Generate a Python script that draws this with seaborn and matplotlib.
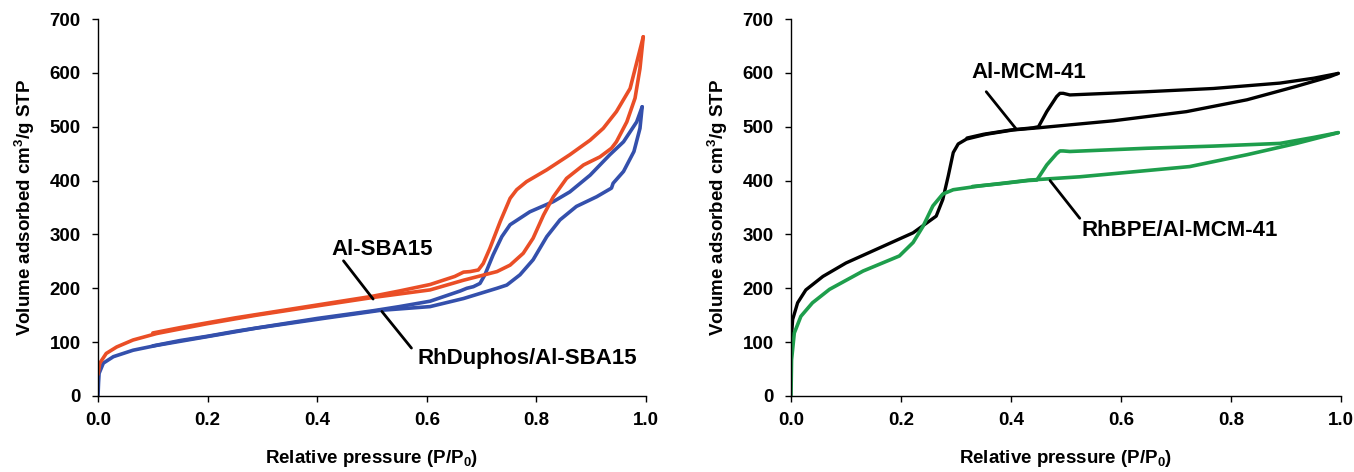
import matplotlib
matplotlib.use("Agg")
import matplotlib.pyplot as plt
import pandas as pd
import seaborn as sns

# ---------------- data ----------------
# Left panel: Al-SBA15
sba_ads_x = [0.0, 0.0033, 0.015, 0.034, 0.064, 0.107, 0.198, 0.289, 0.411, 0.502, 0.606, 0.667,
             0.728, 0.752, 0.776, 0.794, 0.813, 0.831, 0.855, 0.886, 0.916, 0.937, 0.946, 0.965,
             0.980, 0.989, 0.995]
sba_ads_y = [40, 61, 79, 91, 104, 116, 134, 150, 169, 183, 197, 215,
             231, 243, 265, 293, 336, 370, 404, 429, 444, 460, 472, 509,
             553, 608, 667]
sba_des_x = [0.995, 0.971, 0.946, 0.922, 0.898, 0.861, 0.819, 0.782, 0.764, 0.752, 0.734, 0.715,
             0.703, 0.694, 0.679, 0.667, 0.651, 0.606, 0.55, 0.5, 0.45, 0.40, 0.35, 0.30,
             0.25, 0.20, 0.15, 0.10]
sba_des_y = [667, 571, 528, 497, 475, 448, 420, 398, 383, 367, 324, 274,
             246, 234, 231, 230, 222, 207, 195, 185, 177, 169, 161, 153,
             145, 136, 127, 117]

# Left panel: RhDuphos/Al-SBA15
rhd_ads_x = [0.0, 0.001, 0.002, 0.0097, 0.028, 0.064, 0.107, 0.198, 0.289, 0.411, 0.515, 0.606,
             0.667, 0.728, 0.746, 0.770, 0.794, 0.819, 0.843, 0.873, 0.910, 0.937, 0.940, 0.959,
             0.978, 0.989, 0.993]
rhd_ads_y = [0, 25, 42, 61, 73, 85, 94, 110, 126, 144, 159, 166,
             181, 200, 206, 225, 253, 296, 327, 352, 370, 386, 395, 417,
             454, 497, 537]
rhd_des_x = [0.993, 0.983, 0.959, 0.934, 0.898, 0.861, 0.831, 0.788, 0.752, 0.737, 0.721, 0.706,
             0.697, 0.685, 0.673, 0.661, 0.606, 0.55, 0.5, 0.45, 0.40, 0.35, 0.30, 0.25,
             0.20, 0.15, 0.10]
rhd_des_y = [537, 509, 472, 448, 410, 379, 361, 342, 318, 296, 262, 225,
             209, 203, 200, 195, 176, 166, 158, 151, 144, 136, 128, 120,
             111, 103, 93]

# Right panel: Al-MCM-41
mcm_ads_x = [0.0, 0.003, 0.012, 0.027, 0.058, 0.1, 0.161, 0.222, 0.264, 0.276, 0.286, 0.295,
             0.304, 0.319, 0.355, 0.404, 0.45, 0.586, 0.719, 0.829, 0.919, 0.98, 0.995]
mcm_ads_y = [98, 142, 173, 197, 222, 247, 275, 303, 334, 365, 409, 452,
             468, 477, 486, 494, 498, 511, 528, 550, 575, 593, 599]
mcm_des_x = [0.995, 0.95, 0.889, 0.768, 0.647, 0.507, 0.495, 0.489, 0.483, 0.465, 0.45, 0.44,
             0.40, 0.35, 0.32]
mcm_des_y = [599, 590, 581, 571, 565, 559, 562, 562, 556, 528, 500, 498,
             494, 486, 479]

# Right panel: RhBPE/Al-MCM-41
bpe_ads_x = [0.0, 0.001, 0.006, 0.018, 0.039, 0.07, 0.131, 0.197, 0.222, 0.24, 0.258, 0.276,
             0.295, 0.343, 0.435, 0.525, 0.725, 0.829, 0.919, 0.98, 0.995]
bpe_ads_y = [0, 67, 117, 148, 173, 198, 232, 260, 285, 315, 353, 375,
             383, 390, 401, 407, 426, 448, 469, 485, 489]
bpe_des_x = [0.995, 0.95, 0.889, 0.768, 0.647, 0.507, 0.495, 0.489, 0.483, 0.465, 0.447, 0.43,
             0.38, 0.33]
bpe_des_y = [489, 480, 469, 464, 460, 454, 455, 455, 450, 429, 401, 400,
             394, 389]

x_ticks = [0.0, 0.2, 0.4, 0.6, 0.8, 1.0]
x_tick_labels = ["0.0", "0.2", "0.4", "0.6", "0.8", "1.0"]
y_ticks = [0, 100, 200, 300, 400, 500, 600, 700]

# ---------------- style ----------------
sns.set_theme(style="ticks")
plt.rcParams["font.family"] = ["Liberation Sans", "DejaVu Sans"]
plt.rcParams["font.weight"] = "bold"
plt.rcParams["mathtext.fontset"] = "custom"
plt.rcParams["mathtext.rm"] = "Liberation Sans:bold"
plt.rcParams["mathtext.bf"] = "Liberation Sans:bold"
plt.rcParams["mathtext.it"] = "Liberation Sans:bold"

ORANGE = "#EA4E26"
BLUE = "#3450AC"
GREEN = "#1E9E4C"
BLACK = "#000000"

fig = plt.figure(figsize=(13.54, 4.72), dpi=100)
axL = fig.add_axes([98 / 1354, 76 / 472, 548 / 1354, 377 / 472])
axR = fig.add_axes([791 / 1354, 76 / 472, 550 / 1354, 377 / 472])


def draw(ax, xs, ys, color, lw):
    df = pd.DataFrame({"x": xs, "y": ys})
    sns.lineplot(data=df, x="x", y="y", ax=ax, color=color, lw=lw, sort=False,
                 estimator=None, legend=False, solid_joinstyle="round", solid_capstyle="round")


draw(axL, rhd_ads_x, rhd_ads_y, BLUE, 2.6)
draw(axL, rhd_des_x, rhd_des_y, BLUE, 2.6)
draw(axL, sba_ads_x, sba_ads_y, ORANGE, 2.6)
draw(axL, sba_des_x, sba_des_y, ORANGE, 2.6)

draw(axR, mcm_ads_x, mcm_ads_y, BLACK, 2.4)
draw(axR, mcm_des_x, mcm_des_y, BLACK, 2.4)
draw(axR, bpe_ads_x, bpe_ads_y, GREEN, 2.6)
draw(axR, bpe_des_x, bpe_des_y, GREEN, 2.6)

ylabel = r"Volume adsorbed cm$^{3}$/g STP"
xlabel = r"Relative pressure (P/P$_{0}$)"

for ax in (axL, axR):
    ax.set_xlim(0, 1.0)
    ax.set_ylim(0, 700)
    ax.set_xticks(x_ticks)
    ax.set_xticklabels(x_tick_labels)
    ax.set_yticks(y_ticks)
    ax.tick_params(axis="both", direction="out", length=4.5, width=1.0, color="black",
                   labelsize=13.5, labelcolor="black")
    ax.tick_params(axis="y", pad=8)
    ax.tick_params(axis="x", pad=7)
    for lab in ax.get_xticklabels() + ax.get_yticklabels():
        lab.set_fontweight("bold")
    sns.despine(ax=ax)
    for s in ("left", "bottom"):
        ax.spines[s].set_linewidth(1.0)
        ax.spines[s].set_color("black")
    ax.set_xlabel(xlabel, fontsize=13.5, fontweight="bold", labelpad=14, color="black")
    ax.set_ylabel(ylabel, fontsize=13.5, fontweight="bold", labelpad=9, color="black")
    ax.set_facecolor("white")

ann = dict(fontsize=16, fontweight="bold", color="black", ha="center", va="center")
axL.plot([0.448, 0.502], [251, 180], color="black", lw=2.0)
axL.text(0.518, 272, "Al-SBA15", **ann)
axL.plot([0.518, 0.572], [157, 89], color="black", lw=2.0)
axL.text(0.784, 70, "RhDuphos/Al-SBA15", **ann)

axR.plot([0.355, 0.41], [565, 495], color="black", lw=2.0)
axR.text(0.433, 600, "Al-MCM-41", **ann)
axR.plot([0.471, 0.525], [400, 330], color="black", lw=2.0)
axR.text(0.706, 308, "RhBPE/Al-MCM-41", **ann)

fig.savefig("out.png", dpi=100, facecolor="white")
